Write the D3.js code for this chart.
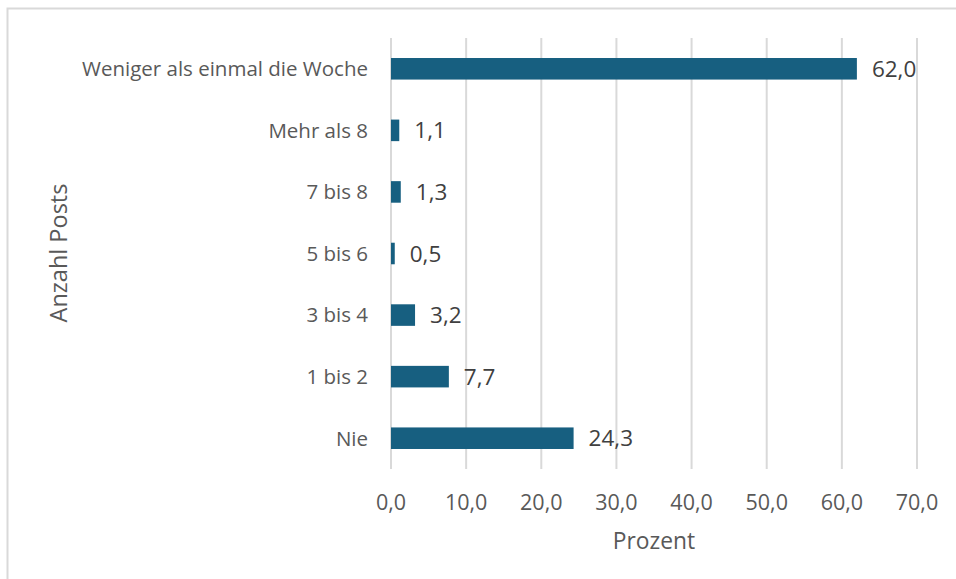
<!DOCTYPE html>
<html><head><meta charset="utf-8">
<script src="https://cdn.jsdelivr.net/npm/d3@7"></script>
<style>body{margin:0;background:#fff}svg{display:block}text{font-family:"Open Sans",sans-serif}</style>
</head><body><svg id="c" width="956" height="579"></svg>
<script>
const categories = ["Weniger als einmal die Woche","Mehr als 8","7 bis 8","5 bis 6","3 bis 4","1 bis 2","Nie"];
const values = [62.0,1.1,1.3,0.5,3.2,7.7,24.3];
const xTicks = [0,10,20,30,40,50,60,70];
const xTitle = "Prozent";
const yTitle = "Anzahl Posts";

const svg = d3.select("#c");
const fmt = v => d3.format(".1f")(v).replace(".", ",");
const m = {left:391, right:917, top:38, bottom:469};

svg.append("rect").attr("x",7.5).attr("y",8.5).attr("width",1000).attr("height",1000)
  .attr("fill","#fff").attr("stroke","#d9d9d9").attr("stroke-width",2);

const x = d3.scaleLinear().domain([0,70]).range([m.left,m.right]);
const y = d3.scaleBand().domain(categories).range([m.top,m.bottom]).paddingInner(0.65).paddingOuter(0.325);

const gx = svg.append("g");
gx.selectAll("line").data(xTicks).join("line")
  .attr("x1",d=>x(d)).attr("x2",d=>x(d)).attr("y1",m.top).attr("y2",m.bottom)
  .attr("stroke","#d9d9d9").attr("stroke-width",2);
gx.selectAll("text").data(xTicks).join("text")
  .attr("x",d=>x(d)).attr("y",510).attr("text-anchor","middle")
  .attr("font-size",21.5).attr("fill","#595959").text(fmt);

svg.append("g").selectAll("rect").data(values).join("rect")
  .attr("x",x(0)).attr("y",(d,i)=>y(categories[i])).attr("width",d=>x(d)-x(0))
  .attr("height",y.bandwidth()).attr("fill","#175f80");

svg.append("g").selectAll("text").data(values).join("text")
  .attr("x",d=>x(d)+15).attr("y",(d,i)=>y(categories[i])+y.bandwidth()/2).attr("dy","0.36em")
  .attr("font-size",22.5).attr("fill","#404040").text(fmt);

svg.append("g").selectAll("text").data(categories).join("text")
  .attr("x",368).attr("y",d=>y(d)+y.bandwidth()/2).attr("dy","0.36em").attr("text-anchor","end")
  .attr("font-size",20.5).attr("fill","#595959").text(d=>d);

svg.append("text").attr("x",654).attr("y",549).attr("text-anchor","middle")
  .attr("font-size",22.8).attr("fill","#595959").text(xTitle);
svg.append("text").attr("transform","translate(67,253) rotate(-90)").attr("text-anchor","middle")
  .attr("font-size",23.5).attr("fill","#595959").text(yTitle);
</script></body></html>
